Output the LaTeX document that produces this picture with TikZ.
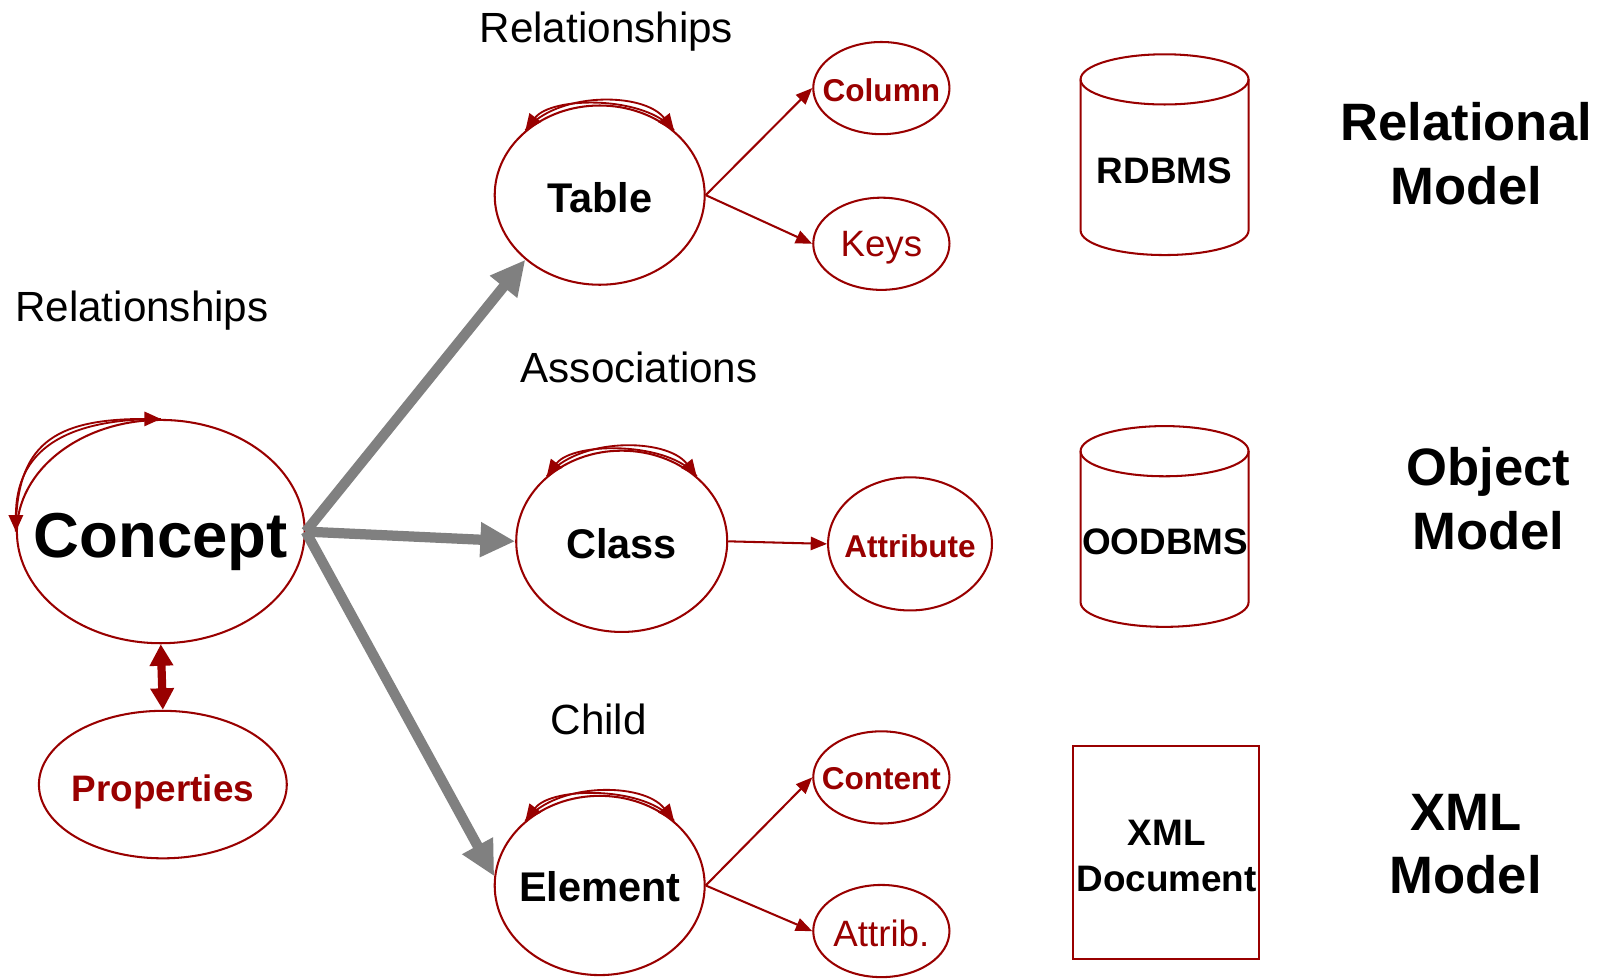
\documentclass[tikz,border=0pt]{standalone}
\usepackage{fontspec}
\setmainfont{Liberation Sans}
\usetikzlibrary{shapes.geometric,arrows.meta}
\definecolor{dred}{HTML}{990000}
\definecolor{agray}{HTML}{808080}
\newcommand\tc[2][0pt]{\makebox[0pt]{\raisebox{\dimexpr-0.36em-#1\relax}[0pt][0pt]{#2}}}
\begin{document}
\begin{tikzpicture}[x=0.5pt,y=-0.5pt,
  ell/.style={ellipse, draw=dred, line width=1pt, inner sep=0pt, fill=white},
  redarrow/.style={draw=dred, line width=1pt, -{Triangle[length=8pt,width=6.5pt]}},
  loopline/.style={draw=dred, line width=0.9pt, -{Triangle[length=8pt,width=7pt]}},
  bigarrow/.style={draw=agray, line width=5pt, -{Triangle[length=17pt,width=16pt]}},
  lbl/.style={anchor=base, font=\fontsize{20.6}{24}\selectfont},
  model/.style={align=center, font=\bfseries\fontsize{25.7}{31}\selectfont},
  dbline/.style={draw=dred, line width=1pt},
  dbtext/.style={anchor=base, font=\bfseries\fontsize{18}{22}\selectfont},
  bigname/.style={font=\bfseries\fontsize{20.25}{24}\selectfont},
  smallbold/.style={font=\bfseries\fontsize{15.4}{18}\selectfont, text=dred},
  smallreg/.style={font=\fontsize{17.9}{21}\selectfont, text=dred}
]
\path[use as bounding box, fill=white] (0,0) rectangle (1568,955);

% main concept nodes
\node[ell, minimum width=140.5pt, minimum height=109pt, font=\bfseries\fontsize{31}{36}\selectfont] (concept) at (157,519) {\tc[1.7pt]{Concept}};
\node[ell, minimum width=121pt, minimum height=72pt, font=\bfseries\fontsize{18}{22}\selectfont, text=dred] (props) at (159,766) {\tc[2pt]{Properties}};

\node[ell, bigname, minimum width=102.5pt, minimum height=87.5pt] (table) at (585.5,190.5) {\tc[1.25pt]{Table}};
\node[ell, bigname, minimum width=103pt, minimum height=88.5pt] (class) at (607,528.5) {\tc[1.25pt]{Class}};
\node[ell, bigname, minimum width=102.5pt, minimum height=87.5pt] (element) at (585.5,864.5) {\tc[0.5pt]{Element}};

\node[ell, smallbold, minimum width=66.5pt, minimum height=45pt] (column) at (860.5,86) {\tc[1pt]{Column}};
\node[ell, smallreg, minimum width=66.5pt, minimum height=45pt] (keys) at (860.5,238) {\tc{Keys}};
\node[ell, smallbold, minimum width=80pt, minimum height=65pt] (attribute) at (888.5,531) {\tc[1pt]{Attribute}};
\node[ell, smallbold, minimum width=66.5pt, minimum height=45pt] (content) at (860.5,759) {\tc[0.5pt]{Content}};
\node[ell, smallreg, minimum width=66.5pt, minimum height=45pt] (attrib) at (860.5,909) {\tc[1pt]{Attrib.}};

% labels
\node[lbl] (rel1) at (592,41) {Relationships};
\node[lbl] (rel2) at (138.5,314) {Relationships};
\node[lbl] (assoc) at (624,373) {Associations};
\node[lbl] (child) at (584.5,717) {Child};

% gray arrows
\draw[bigarrow] (concept.east) -- (table.221);
\draw[bigarrow] (concept.east) -- (class.west);
\draw[bigarrow] (concept.east) -- (element.175);

% concept-properties
\draw[draw=dred, line width=4pt, {Triangle[length=10.5pt,width=11pt]}-{Triangle[length=10.5pt,width=11pt]}] (concept.south) -- (props.north);

% concept self loop
\draw[loopline] (concept.west) .. controls +(0,-85) and +(-105,0) .. (concept.north);
\draw[loopline] (concept.north) .. controls +(-96,0) and +(0,-78) .. (concept.west);

% self loops
\foreach \n in {table,class,element}{
  \draw[loopline] (\n.139) .. controls +(30,-38) and +(-30,-38) .. (\n.41);
  \draw[loopline] (\n.41) .. controls +(-26,-34) and +(26,-34) .. (\n.139);
}

% red arrows
\draw[redarrow] (table.east) -- (column.west);
\draw[redarrow] (table.east) -- (keys.west);
\draw[redarrow] (class.east) -- (attribute.west);
\draw[redarrow] (element.east) -- (content.west);
\draw[redarrow] (element.east) -- (attrib.west);

% databases
\draw[dbline] (1055,77.5) -- (1055,225) arc[start angle=180, end angle=0, x radius=82, y radius=24] -- (1219,77.5);
\draw[dbline] (1137,77.5) ellipse [x radius=82, y radius=24.5];
\node[dbtext] (rdbms) at (1137,179) {RDBMS};

\draw[dbline] (1055,440.5) -- (1055,588) arc[start angle=180, end angle=0, x radius=82, y radius=24] -- (1219,440.5);
\draw[dbline] (1137,440.5) ellipse [x radius=82, y radius=24.5];
\node[dbtext] (oodbms) at (1137.5,541) {OODBMS};

\node[draw=dred, line width=1pt, minimum width=90.8pt, minimum height=104pt, inner sep=0pt] (xmldoc) at (1138.8,832) {};
\node[align=center, font=\bfseries\fontsize{18}{22.5}\selectfont] (xmltext) at (1139,836) {XML\\Document};

% model labels
\node[model] (relm) at (1431.5,150) {Relational\\Model};
\node[model] (objm) at (1453,487) {Object\\Model};
\node[model] (xmlm) at (1431,824) {XML\\Model};
\end{tikzpicture}
\end{document}
